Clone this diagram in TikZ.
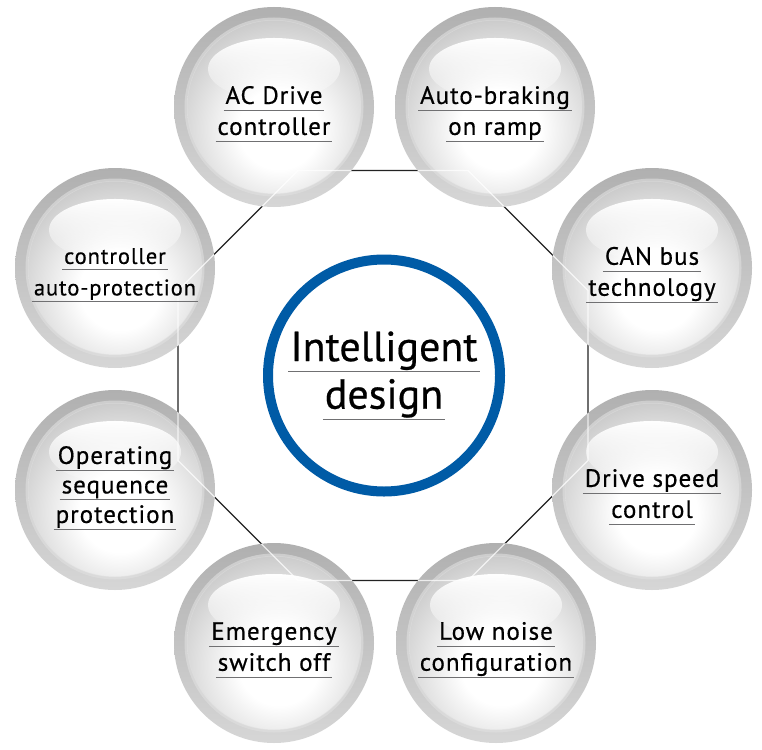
\documentclass[tikz,border=0pt]{standalone}
\usepackage{fontspec}
\setmainfont{PT Sans}
\newfontfamily\lblfont[LetterSpace=4,FakeBold=0.6]{PT Sans}
\newfontfamily\ctrfont[FakeBold=0.5]{PT Sans}
\usetikzlibrary{fadings}
\definecolor{ringblue}{RGB}{0,91,166}
\definecolor{ulgray}{RGB}{112,112,114}
\definecolor{octline}{RGB}{35,35,35}
\newcommand\ulin[1]{\vtop{\hbox{\kern2pt#1\vphantom{p}\kern2pt}\kern1pt{\color{ulgray}\hrule height 1pt}}}
\pgfdeclareradialshading{discshade}{\pgfpoint{0bp}{0bp}}{color(0bp)=(white); color(9bp)=(white); color(25bp)=(black!21); color(50bp)=(black!21)}
\tikzfading[name=hlfade, top color=transparent!0, bottom color=transparent!90]
\newcommand\bubble[2]{%
  \begin{scope}[shift={(#1,#2)}]
    \shade[top color=black!31, bottom color=black!16] (0,0) circle (100);
    \begin{scope}
      \clip (0,0) circle (87);
      \shade[shading=discshade] (5,22) circle (112);
    \end{scope}
    \draw[black!12, line width=3pt, opacity=0.6] (0,0) circle (88);
    \fill[white, path fading=hlfade] (0,-38) ellipse (66 and 31);
  \end{scope}
}
\tikzset{
  lbl/.style={align=center, inner sep=0pt, font=\fontsize{25}{31}\lblfont},
  octdark/.style={draw=octline, line width=1.3pt},
  octlight/.style={draw=white, line width=1.3pt, opacity=0.75},
  ctr/.style={circle, draw=ringblue, line width=10pt, minimum size=232pt, fill=white,
    inner sep=0pt, align=center, font=\fontsize{42}{47.6}\ctrfont}
}
\begin{document}
\begin{tikzpicture}[x=1pt, y=-1pt]
\useasboundingbox (0,0) rectangle (762,749);
\fill[white] (0,0) rectangle (762,749);
% octagon corners
\coordinate (o1) at (298,170.5);
\coordinate (o2) at (468,170.5);
\coordinate (o3) at (588,290.5);
\coordinate (o4) at (588,460.5);
\coordinate (o5) at (468,580.5);
\coordinate (o6) at (298,580.5);
\coordinate (o7) at (178,460.5);
\coordinate (o8) at (178,290.5);
\draw[octdark] (o1) -- (o2) -- (o3) -- (o4) -- (o5) -- (o6) -- (o7) -- (o8) -- cycle;
% bubbles
\bubble{274}{107}
\bubble{495}{107}
\bubble{652}{268}
\bubble{652}{490}
\bubble{496}{643}
\bubble{274}{643}
\bubble{115}{490}
\bubble{115}{268}
\begin{scope}
  \clip (274,107) circle (100) (495,107) circle (100) (652,268) circle (100)
        (652,490) circle (100) (496,643) circle (100) (274,643) circle (100)
        (115,490) circle (100) (115,268) circle (100);
  \draw[octlight] (o1) -- (o2) -- (o3) -- (o4) -- (o5) -- (o6) -- (o7) -- (o8) -- cycle;
\end{scope}
% labels
\node[lbl] (ac) at (274,114) {\ulin{AC Drive}\\\ulin{controller}};
\node[lbl] (ab) at (495,114) {\ulin{Auto-braking}\\\ulin{on ramp}};
\node[lbl] (can) at (652,275) {\ulin{CAN bus}\\\ulin{technology}};
\node[lbl] (ds) at (652,497) {\ulin{Drive speed}\\\ulin{control}};
\node[lbl] (ln) at (496,650) {\ulin{Low noise}\\\ulin{configuration}};
\node[lbl] (em) at (274,650) {\ulin{Emergency}\\\ulin{switch off}};
\node[lbl, font=\fontsize{25}{29.5}\lblfont] (op) at (115,488) {\ulin{Operating}\\\ulin{sequence}\\\ulin{protection}};
\node[lbl, font=\fontsize{22.5}{31.5}\lblfont] (cp) at (115,275) {\ulin{controller}\\\ulin{auto-protection}};
% centre
\node[ctr] (ctr) at (384,375.5) {\ulin{Intelligent}\\\ulin{design}};
\end{tikzpicture}
\end{document}
